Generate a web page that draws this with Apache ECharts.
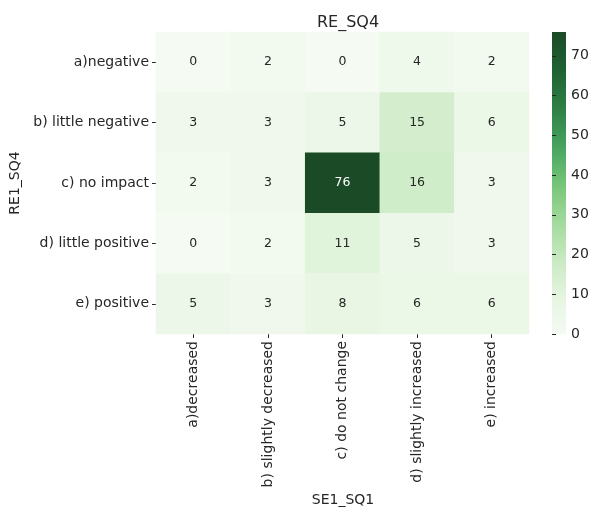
<!DOCTYPE html>
<html><head><meta charset="utf-8">
<script src="https://cdn.jsdelivr.net/npm/echarts@6/dist/echarts.min.js"></script>
<style>html,body{margin:0;padding:0;background:#fff}#c{width:597px;height:508px}</style>
</head><body><div id="c"></div>
<script>
const xCategories = ['a)decreased','b) slightly decreased','c) do not change','d) slightly increased','e) increased'];
const yCategories = ['a)negative','b) little negative','c) no impact','d) little positive','e) positive'];
const rowNegative = [0,2,0,4,2];
const rowLittleNegative = [3,3,5,15,6];
const rowNoImpact = [2,3,76,16,3];
const rowLittlePositive = [0,2,11,5,3];
const rowPositive = [5,3,8,6,6];
const colorbarTicks = [0,10,20,30,40,50,60,70];
const colorMin = 0, colorMax = 76;
const greens = ['#f5faf3','#e5f5e0','#c7e9c0','#a1d99b','#74c476','#45a35e','#2e7f45','#1f6232','#1b4a26'];

const rows = [rowNegative,rowLittleNegative,rowNoImpact,rowLittlePositive,rowPositive];
const data = [];
rows.forEach((r,yi)=>r.forEach((v,xi)=>{
  data.push({value:[xi,yi,v], label:{color: v/colorMax > 0.6 ? '#ffffff' : '#262626'}});
}));
const txt = '#262626';
const ff = 'DejaVu Sans';
const gradStops = greens.map((c,i)=>({offset:i/(greens.length-1), color:c})).reverse()
  .map((s,i,a)=>({offset:i/(a.length-1), color:s.color}));
const chart = echarts.init(document.getElementById('c'));
chart.setOption({
  backgroundColor:'#fff',
  animation:false,
  title:{text:'RE_SQ4', left:343, top:10, textAlign:'center',
    textStyle:{fontSize:16, fontWeight:'normal', color:txt, fontFamily:ff}},
  grid:[
    {left:156, right:68, top:32, bottom:174},
    {left:552, width:14, top:32, height:302}
  ],
  graphic:[
    {type:'rect', left:552, top:32, shape:{width:14, height:302}, z:-1,
     style:{fill:new echarts.graphic.LinearGradient(0,0,0,1,gradStops)}},
    {type:'text', x:343, y:500,
     style:{text:'SE1_SQ1', font:'14px "DejaVu Sans"', fill:txt, textAlign:'center', textVerticalAlign:'middle'}}
  ],
  xAxis:[
    {type:'category', data:xCategories, gridIndex:0,
     axisLine:{show:false}, axisTick:{show:true, alignWithLabel:true, length:4, lineStyle:{color:txt}},
     axisLabel:{rotate:90, fontSize:14, color:txt, margin:7, fontFamily:ff},
     splitLine:{show:false}},
    {type:'value', gridIndex:1, show:false, min:0, max:1}
  ],
  yAxis:[
    {type:'category', data:yCategories, inverse:true, gridIndex:0,
     axisLine:{show:false}, axisTick:{show:true, alignWithLabel:true, length:4, lineStyle:{color:txt}},
     axisLabel:{fontSize:14, color:txt, margin:7, fontFamily:ff},
     splitLine:{show:false},
     name:'RE1_SQ4', nameLocation:'middle', nameGap:131, nameRotate:90,
     nameTextStyle:{fontSize:14, color:txt, fontFamily:ff}},
    {type:'value', gridIndex:1, position:'right', min:colorMin, max:colorMax,
     axisLine:{show:false},
     axisTick:{show:true, length:4, customValues:colorbarTicks, lineStyle:{color:txt}},
     axisLabel:{fontSize:14, color:txt, margin:5, customValues:colorbarTicks, fontFamily:ff},
     splitLine:{show:false}}
  ],
  visualMap:{
    type:'continuous', min:colorMin, max:colorMax, show:false,
    inRange:{color:greens}, seriesIndex:0
  },
  series:[{
    type:'heatmap', xAxisIndex:0, yAxisIndex:0, data:data,
    label:{show:true, fontSize:12.5, fontFamily:ff, formatter:p=>p.value[2]},
    itemStyle:{borderWidth:0}
  }]
});
</script></body></html>
